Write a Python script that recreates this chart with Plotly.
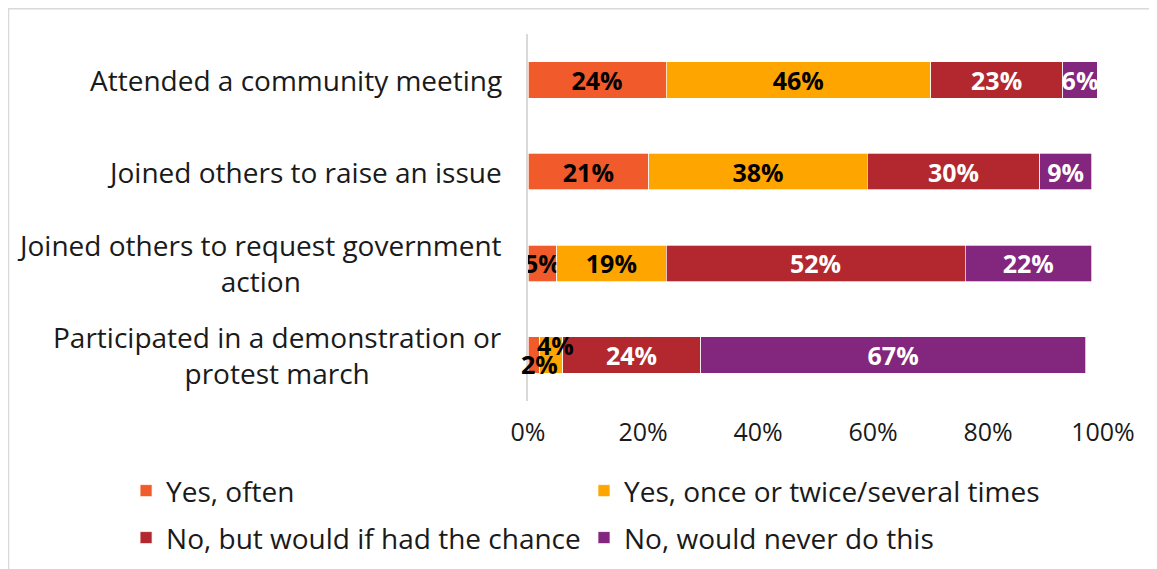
import plotly.graph_objects as go

categories = [
    "Attended a community meeting",
    "Joined others to raise an issue",
    "Joined others to request government action",
    "Participated in a demonstration or protest march",
]
cat_labels = [
    "Attended a community meeting",
    "Joined others to raise an issue",
    "Joined others to request government<br>action",
    "Participated in a demonstration or<br>protest march",
]
series_names = [
    "Yes, often",
    "Yes, once or twice/several times",
    "No, but would if had the chance",
    "No, would never do this",
]
yes_often = [24, 21, 5, 2]
yes_once = [46, 38, 19, 4]
no_would = [23, 30, 52, 24]
no_never = [6, 9, 22, 67]
series_values = [yes_often, yes_once, no_would, no_never]
colors = ["#F15A2B", "#FFA500", "#B2282E", "#82267E"]
label_colors = ["black", "black", "white", "white"]

FONT = "Open Sans"
TXT = "#1a1a1a"
LBL = 25
legend_ids = ["legend", "legend2", "legend3", "legend4"]
fig = go.Figure()
for i, (name, vals) in enumerate(zip(series_names, series_values)):
    texts = []
    for j, v in enumerate(vals):
        # the two tiny bars in the last row are labelled by annotations
        if j == 3 and i < 2:
            texts.append("")
        else:
            texts.append(f"{v}%")
    fig.add_trace(go.Bar(
        y=categories, x=[v / 100 for v in vals], name=name, orientation="h",
        marker=dict(color=colors[i], line=dict(color="white", width=0.7)),
        text=texts, textposition="inside", insidetextanchor="middle",
        textangle=0, constraintext="none",
        textfont=dict(family=FONT, size=LBL, color=label_colors[i], weight="bold"),
        legend=legend_ids[i],
        width=0.4,
    ))

# small labels for the last row (2% below, 4% above)
fig.add_annotation(x=yes_often[3] / 200, y=categories[3], xref="x", yref="y",
                   text=f"{yes_often[3]}%", showarrow=False, yshift=-9, xshift=6,
                   font=dict(family=FONT, size=LBL, color="black", weight="bold"))
fig.add_annotation(x=(yes_often[3] + yes_once[3] / 2) / 100, y=categories[3], xref="x", yref="y",
                   text=f"{yes_once[3]}%", showarrow=False, yshift=10, xshift=4,
                   font=dict(family=FONT, size=LBL, color="black", weight="bold"))

for c, lab in zip(categories, cat_labels):
    fig.add_annotation(x=0, y=c, xref="paper", yref="y", text=lab, showarrow=False,
                       xanchor="right", align="center", xshift=-24,
                       font=dict(family=FONT, size=28, color=TXT))

fig.add_shape(type="rect", xref="paper", yref="paper", x0=-0.9035, x1=1.2, y0=-0.6, y1=1.069,
              line=dict(color="#d9d9d9", width=1.5), layer="below")

leg_pos = {"legend": (-0.699, -0.245), "legend2": (0.0974, -0.245),
           "legend3": (-0.699, -0.373), "legend4": (0.0974, -0.373)}
legends = {k: dict(orientation="h", x=x, xanchor="left", y=y, yanchor="middle",
                   font=dict(family=FONT, size=28, color=TXT))
           for k, (x, y) in leg_pos.items()}

fig.update_layout(
    width=1157, height=569,
    margin=dict(l=520, r=62, t=26, b=176),
    barmode="stack",
    plot_bgcolor="white", paper_bgcolor="white",
    font=dict(family=FONT, size=25, color=TXT),
    xaxis=dict(range=[0, 1], tickformat=".0%", dtick=0.2, showgrid=False, zeroline=False,
               showline=False, ticks="", ticklabelstandoff=14,
               tickfont=dict(family=FONT, size=25, color=TXT)),
    yaxis=dict(autorange="reversed", showticklabels=False, showline=True,
               linecolor="#d9d9d9", linewidth=1.5, ticks="", showgrid=False),
    showlegend=True,
    **legends,
)
fig.write_html("out.html")
